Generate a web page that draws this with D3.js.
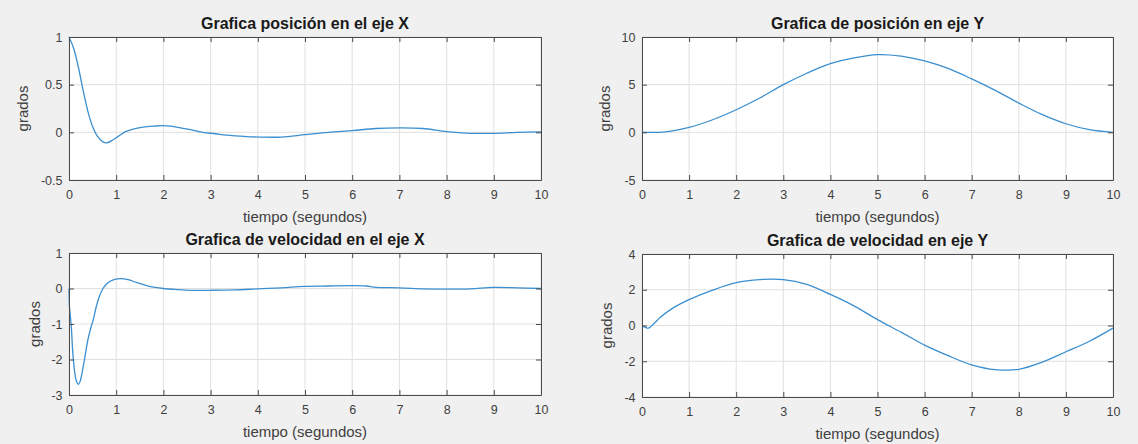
<!DOCTYPE html>
<html>
<head>
<meta charset="utf-8">
<script src="https://cdn.jsdelivr.net/npm/d3@7"></script>
<style>
  body { margin: 0; background: #f0f0f0; }
  svg { display: block; font-family: "Liberation Sans", Arial, sans-serif; }
</style>
</head>
<body>
<svg width="1138" height="444"></svg>
<script>
// tiempo / valores
var tPosX = [0, 0.1, 0.2, 0.3, 0.4, 0.5, 0.6, 0.72, 0.8, 0.93, 1.05, 1.21, 1.4, 1.57, 1.8, 1.99, 2.15, 2.34, 2.6, 2.84, 3.1, 3.33, 3.76, 4.04, 4.5, 5, 5.5, 6, 6.5, 7, 7.5, 8, 8.5, 9, 9.5, 10];
var posX  = [1, 0.88, 0.68, 0.44, 0.22, 0.06, -0.04, -0.1, -0.11, -0.08, -0.04, 0.01, 0.04, 0.055, 0.065, 0.07, 0.065, 0.05, 0.025, 0.0, -0.015, -0.03, -0.045, -0.05, -0.05, -0.025, 0.0, 0.018, 0.04, 0.046, 0.04, 0.007, -0.01, -0.01, 0.0, 0.005];

var tPosY = [0, 0.5, 1, 1.5, 2, 2.5, 3, 3.5, 4, 4.5, 5, 5.5, 6, 6.5, 7, 7.5, 8, 8.5, 9, 9.5, 10];
var posY  = [0, 0.05, 0.52, 1.32, 2.37, 3.6, 5.0, 6.2, 7.2, 7.8, 8.15, 8.0, 7.5, 6.7, 5.6, 4.4, 3.07, 1.85, 0.9, 0.28, 0];

var tVelX = [0, 0.01, 0.03, 0.05, 0.08, 0.12, 0.16, 0.2, 0.24, 0.28, 0.33, 0.4, 0.46, 0.51, 0.58, 0.65, 0.72, 0.79, 0.88, 0.97, 1.1, 1.25, 1.43, 1.7, 2, 2.3, 2.6, 3, 3.5, 4, 4.5, 5, 5.5, 6, 6.3, 6.5, 7, 7.5, 8, 8.5, 9, 9.5, 10];
var velX  = [0, -0.5, -0.8, -1.1, -1.8, -2.35, -2.62, -2.7, -2.6, -2.35, -1.98, -1.45, -1.12, -0.9, -0.5, -0.2, 0.0, 0.12, 0.21, 0.26, 0.28, 0.25, 0.17, 0.06, 0.0, -0.03, -0.05, -0.05, -0.04, -0.01, 0.02, 0.06, 0.07, 0.08, 0.07, 0.03, 0.02, -0.01, -0.02, -0.01, 0.03, 0.02, 0.0];

var tVelY = [0, 0.07, 0.14, 0.25, 0.39, 0.67, 1, 1.5, 2, 2.5, 3, 3.5, 4, 4.5, 5, 5.5, 6, 6.5, 7, 7.5, 8, 8.5, 9, 9.5, 10];
var velY  = [0, -0.1, -0.15, 0.1, 0.46, 1.0, 1.45, 1.98, 2.4, 2.57, 2.57, 2.3, 1.74, 1.1, 0.33, -0.37, -1.1, -1.69, -2.2, -2.47, -2.45, -2.05, -1.47, -0.88, -0.15];

var xTicks = [0, 1, 2, 3, 4, 5, 6, 7, 8, 9, 10];
var yTicksPosX = [-0.5, 0, 0.5, 1];
var yTicksPosY = [-5, 0, 5, 10];
var yTicksVelX = [-3, -2, -1, 0, 1];
var yTicksVelY = [-4, -2, 0, 2, 4];

var titles = ["Grafica posición en el eje X", "Grafica de posición en eje Y",
              "Grafica de velocidad en el eje X", "Grafica de velocidad en eje Y"];

var panels = [
  {t: tPosX, v: posX, yt: yTicksPosX, title: titles[0], box: [69, 541, 37, 180], lab: 41},
  {t: tPosY, v: posY, yt: yTicksPosY, title: titles[1], box: [642, 1113, 37, 180], lab: 32},
  {t: tVelX, v: velX, yt: yTicksVelX, title: titles[2], box: [69, 541, 253, 395], lab: 29},
  {t: tVelY, v: velY, yt: yTicksVelY, title: titles[3], box: [642, 1113, 254, 397], lab: 30}
];

var svg = d3.select("svg");
var axisCol = "#4a4a4a", textCol = "#404040", gridCol = "#e0e0e0", lineCol = "#3b8fd0";

panels.forEach(function(p) {
  var b = p.box;
  var x = d3.scaleLinear().domain([0, 10]).range([b[0], b[1]]);
  var y = d3.scaleLinear().domain(d3.extent(p.yt)).range([b[3], b[2]]);
  var g = svg.append("g");

  g.append("rect")
    .attr("x", b[0]).attr("y", b[2])
    .attr("width", b[1] - b[0]).attr("height", b[3] - b[2])
    .attr("fill", "#fff");

  // rejilla
  g.selectAll(".gx").data(xTicks).enter().append("line")
    .attr("x1", function(d) { return x(d); }).attr("x2", function(d) { return x(d); })
    .attr("y1", b[2]).attr("y2", b[3])
    .attr("stroke", gridCol).attr("stroke-width", 1);
  g.selectAll(".gy").data(p.yt).enter().append("line")
    .attr("y1", function(d) { return y(d); }).attr("y2", function(d) { return y(d); })
    .attr("x1", b[0]).attr("x2", b[1])
    .attr("stroke", gridCol).attr("stroke-width", 1);

  // curva
  var line = d3.line()
    .x(function(d, i) { return x(p.t[i]); })
    .y(function(d) { return y(d); })
    .curve(d3.curveCatmullRom.alpha(0.5));
  g.append("path")
    .datum(p.v)
    .attr("d", line)
    .attr("fill", "none")
    .attr("stroke", lineCol)
    .attr("stroke-width", 1.3);

  var fmt = function(d) { return String(d); };

  // ejes con ticks hacia dentro
  var ax = g.append("g").attr("transform", "translate(0," + b[3] + ")")
    .call(d3.axisBottom(x).tickValues(xTicks).tickFormat(fmt).tickSizeInner(-5).tickSizeOuter(0).tickPadding(10));
  var axT = g.append("g").attr("transform", "translate(0," + b[2] + ")")
    .call(d3.axisTop(x).tickValues(xTicks).tickSizeInner(-5).tickSizeOuter(0).tickFormat(""));
  var ay = g.append("g").attr("transform", "translate(" + b[0] + ",0)")
    .call(d3.axisLeft(y).tickValues(p.yt).tickFormat(fmt).tickSizeInner(-5).tickSizeOuter(0).tickPadding(6.5));
  var ayR = g.append("g").attr("transform", "translate(" + b[1] + ",0)")
    .call(d3.axisRight(y).tickValues(p.yt).tickSizeInner(-5).tickSizeOuter(0).tickFormat(""));

  [ax, axT, ay, ayR].forEach(function(a) {
    a.select(".domain").attr("stroke", axisCol);
    a.selectAll(".tick line").attr("stroke", axisCol);
    a.selectAll("text").attr("fill", textCol).style("font-size", "12.5px");
  });
  ax.selectAll("text").attr("dy", "0.71em");

  g.append("text")
    .attr("x", (b[0] + b[1]) / 2).attr("y", b[2] - 8)
    .attr("text-anchor", "middle")
    .style("font-size", "16px").style("font-weight", "bold")
    .attr("fill", "#1a1a1a")
    .text(p.title);

  g.append("text")
    .attr("x", (b[0] + b[1]) / 2).attr("y", b[3] + 42)
    .attr("text-anchor", "middle")
    .style("font-size", "15px")
    .attr("fill", textCol)
    .text("tiempo (segundos)");

  g.append("text")
    .attr("transform", "translate(" + (b[0] - p.lab) + "," + ((b[2] + b[3]) / 2) + ") rotate(-90)")
    .attr("text-anchor", "middle")
    .style("font-size", "15px")
    .attr("fill", textCol)
    .text("grados");
});
</script>
</body>
</html>
